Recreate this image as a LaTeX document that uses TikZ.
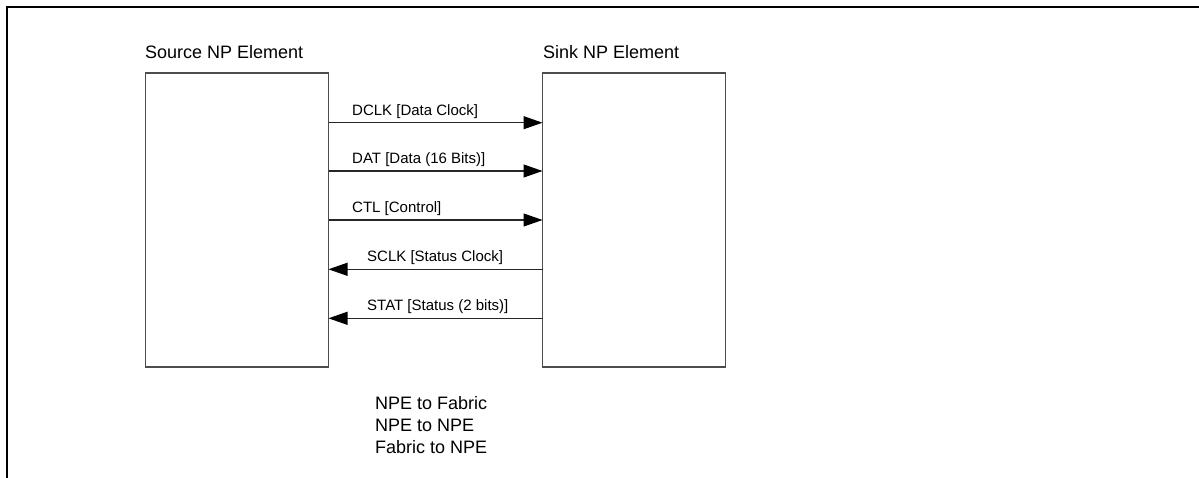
\documentclass[tikz,border=0pt]{standalone}
\usepackage{fontspec}
\setmainfont{Liberation Sans}
\usetikzlibrary{arrows.meta}
\begin{document}
\begin{tikzpicture}[x=1pt,y=-1pt,
  frame/.style={draw=black, line width=2pt},
  element/.style={draw=black!70, line width=1.6pt, fill=none, inner sep=0pt,
    outer sep=0pt, minimum width=183pt, minimum height=294pt, anchor=north west},
  heading/.style={inner sep=0pt, anchor=base west, font=\fontsize{18}{22}\selectfont},
  siglabel/.style={inner sep=0pt, anchor=base west, font=\fontsize{15}{18}\selectfont},
  signal/.style={draw=black!85, line width=1.1pt,
    -{Triangle[length=19pt,width=13pt,fill=black,color=black]}},
]
\useasboundingbox (0,0) rectangle (1199,478);

% page frame (top and left edges)
\draw[frame] (7,478) -- (7,7) -- (1199,7);

% the two elements
\node[element] (src) at (145.5,73) {};
\node[element] (snk) at (542.5,73) {};
\node[heading] (srct) at (145,58.3) {Source NP Element};
\node[heading] (snkt) at (543,58.3) {Sink NP Element};

% signal rows
\coordinate (r1) at (0,122.7);
\coordinate (r2) at (0,171.0);
\coordinate (r3) at (0,220.0);
\coordinate (r4) at (0,269.3);
\coordinate (r5) at (0,318.3);

\draw[signal] (src.east |- r1) -- (snk.west |- r1);
\draw[signal] (src.east |- r2) -- (snk.west |- r2);
\draw[signal] (src.east |- r3) -- (snk.west |- r3);
\draw[signal] (snk.west |- r4) -- (src.east |- r4);
\draw[signal] (snk.west |- r5) -- (src.east |- r5);

\node[siglabel] (l1) at (352,115.2) {DCLK [Data Clock]};
\node[siglabel] (l2) at (352,163.5) {DAT [Data (16 Bits)]};
\node[siglabel] (l3) at (352,212.5) {CTL [Control]};
\node[siglabel] (l4) at (367,261.8) {SCLK [Status Clock]};
\node[siglabel] (l5) at (367,310.8) {STAT [Status (2 bits)]};

% legend lines
\node[heading] (k1) at (375,409) {NPE to Fabric};
\node[heading] (k2) at (375,431) {NPE to NPE};
\node[heading] (k3) at (375,453) {Fabric to NPE};
\end{tikzpicture}
\end{document}
